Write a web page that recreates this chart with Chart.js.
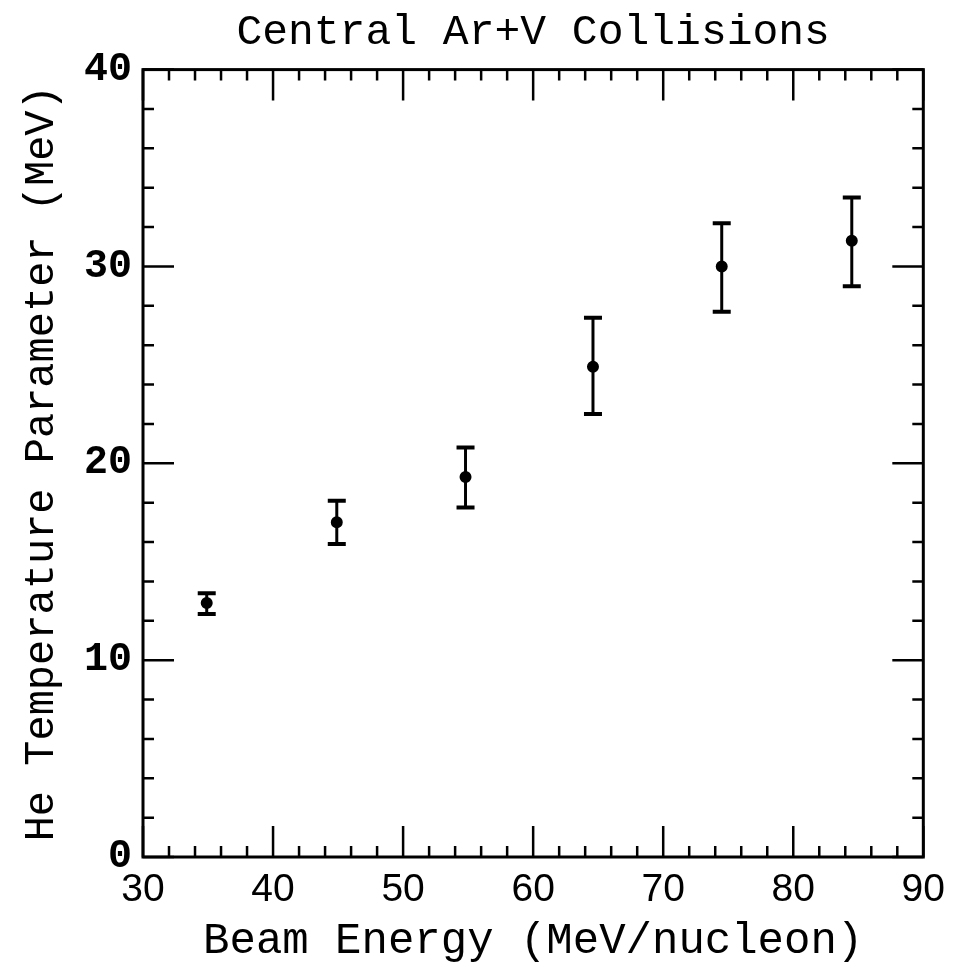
<!DOCTYPE html>
<html>
<head>
<meta charset="utf-8">
<script src="https://cdn.jsdelivr.net/npm/chart.js@4"></script>
<style>
  body { margin: 0; background: #fff; }
  #wrap { position: relative; width: 955px; height: 974px; }
</style>
</head>
<body>
<div id="wrap"><canvas id="myChart" width="955" height="974"></canvas></div>
<script>
// beam energy (MeV/nucleon) and He temperature parameter (MeV)
const energies = [34.9, 44.9, 54.8, 64.6, 74.5, 84.5];
const temps = [12.9, 17.0, 19.3, 24.9, 30.0, 31.3];
const errLow = [12.35, 15.9, 17.75, 22.5, 27.7, 29.0];
const errHigh = [13.4, 18.1, 20.8, 27.4, 32.2, 33.5];

const xTicks = [30, 40, 50, 60, 70, 80, 90];
const yTicks = [0, 10, 20, 30, 40];

const ink = '#000';

// error bars, drawn through the chart scales
const errorBars = {
  id: 'errorBars',
  beforeDatasetsDraw(chart) {
    const { ctx, scales: { x, y } } = chart;
    ctx.save();
    ctx.strokeStyle = ink;
    energies.forEach((e, i) => {
      const px = x.getPixelForValue(e);
      const top = y.getPixelForValue(errHigh[i]);
      const bot = y.getPixelForValue(errLow[i]);
      ctx.lineWidth = 3;
      ctx.beginPath();
      ctx.moveTo(px, top);
      ctx.lineTo(px, bot);
      ctx.stroke();
      ctx.lineWidth = 4;
      ctx.beginPath();
      ctx.moveTo(px - 9, top);
      ctx.lineTo(px + 9, top);
      ctx.moveTo(px - 9, bot);
      ctx.lineTo(px + 9, bot);
      ctx.stroke();
    });
    ctx.restore();
  }
};

// frame with inward ticks on all four sides
const frame = {
  id: 'frame',
  afterDraw(chart) {
    const { ctx, chartArea: a, scales: { x, y } } = chart;
    ctx.save();
    ctx.strokeStyle = ink;
    ctx.lineWidth = 2.5;
    for (let v = 30; v <= 90; v += 2) {
      const px = x.getPixelForValue(v);
      const len = v % 10 === 0 ? 31 : 11;
      ctx.beginPath();
      ctx.moveTo(px, a.bottom);
      ctx.lineTo(px, a.bottom - len);
      ctx.moveTo(px, a.top);
      ctx.lineTo(px, a.top + len);
      ctx.stroke();
    }
    for (let v = 0; v <= 40; v += 2) {
      const py = y.getPixelForValue(v);
      const len = v % 10 === 0 ? 31 : 11;
      ctx.beginPath();
      ctx.moveTo(a.left, py);
      ctx.lineTo(a.left + len, py);
      ctx.moveTo(a.right, py);
      ctx.lineTo(a.right - len, py);
      ctx.stroke();
    }
    ctx.lineWidth = 3;
    ctx.strokeRect(a.left, a.top, a.right - a.left, a.bottom - a.top);
    ctx.restore();
  }
};

const ctx = document.getElementById('myChart').getContext('2d');

new Chart(ctx, {
  type: 'scatter',
  data: {
    datasets: [{
      data: energies.map((e, i) => ({ x: e, y: temps[i] })),
      pointRadius: 5,
      pointBorderWidth: 2,
      pointBackgroundColor: ink,
      pointBorderColor: ink,
      showLine: false,
    }],
  },
  options: {
    responsive: false,
    animation: false,
    events: [],
    layout: { padding: { left: 0, right: 30, top: 0, bottom: 0 } },
    plugins: {
      legend: { display: false },
      tooltip: { enabled: false },
      title: {
        display: true,
        fullSize: false,
        text: 'Central Ar+V Collisions',
        color: ink,
        font: { family: 'Liberation Mono', size: 43, weight: 'normal', lineHeight: 1.2 },
        padding: { top: 7, bottom: 11 },
      },
    },
    scales: {
      x: {
        type: 'linear',
        min: 30,
        max: 90,
        afterFit: (s) => { s.height = 117; },
        afterBuildTicks: (s) => { s.ticks = xTicks.map((v) => ({ value: v })); },
        grid: { display: false, drawTicks: false },
        border: { display: false },
        ticks: {
          color: ink,
          padding: 10,
          maxRotation: 0,
          font: { family: 'Liberation Sans', size: 39 },
        },
        title: {
          display: true,
          text: 'Beam Energy (MeV/nucleon)',
          color: ink,
          font: { family: 'Liberation Mono', size: 44, lineHeight: 1.2 },
          padding: { top: 0, bottom: 6 },
        },
      },
      y: {
        type: 'linear',
        min: 0,
        max: 40,
        afterFit: (s) => { s.width = 143; },
        afterBuildTicks: (s) => { s.ticks = yTicks.map((v) => ({ value: v })); },
        grid: { display: false, drawTicks: false },
        border: { display: false },
        ticks: {
          color: ink,
          padding: 11,
          font: { family: 'Liberation Mono', size: 40, weight: 'bold' },
        },
        title: {
          display: true,
          text: 'He Temperature Parameter (MeV)',
          color: ink,
          font: { family: 'Liberation Mono', size: 42, lineHeight: 1.2 },
          padding: { top: 17, bottom: 0 },
        },
      },
    },
  },
  plugins: [errorBars, frame],
});
</script>
</body>
</html>
